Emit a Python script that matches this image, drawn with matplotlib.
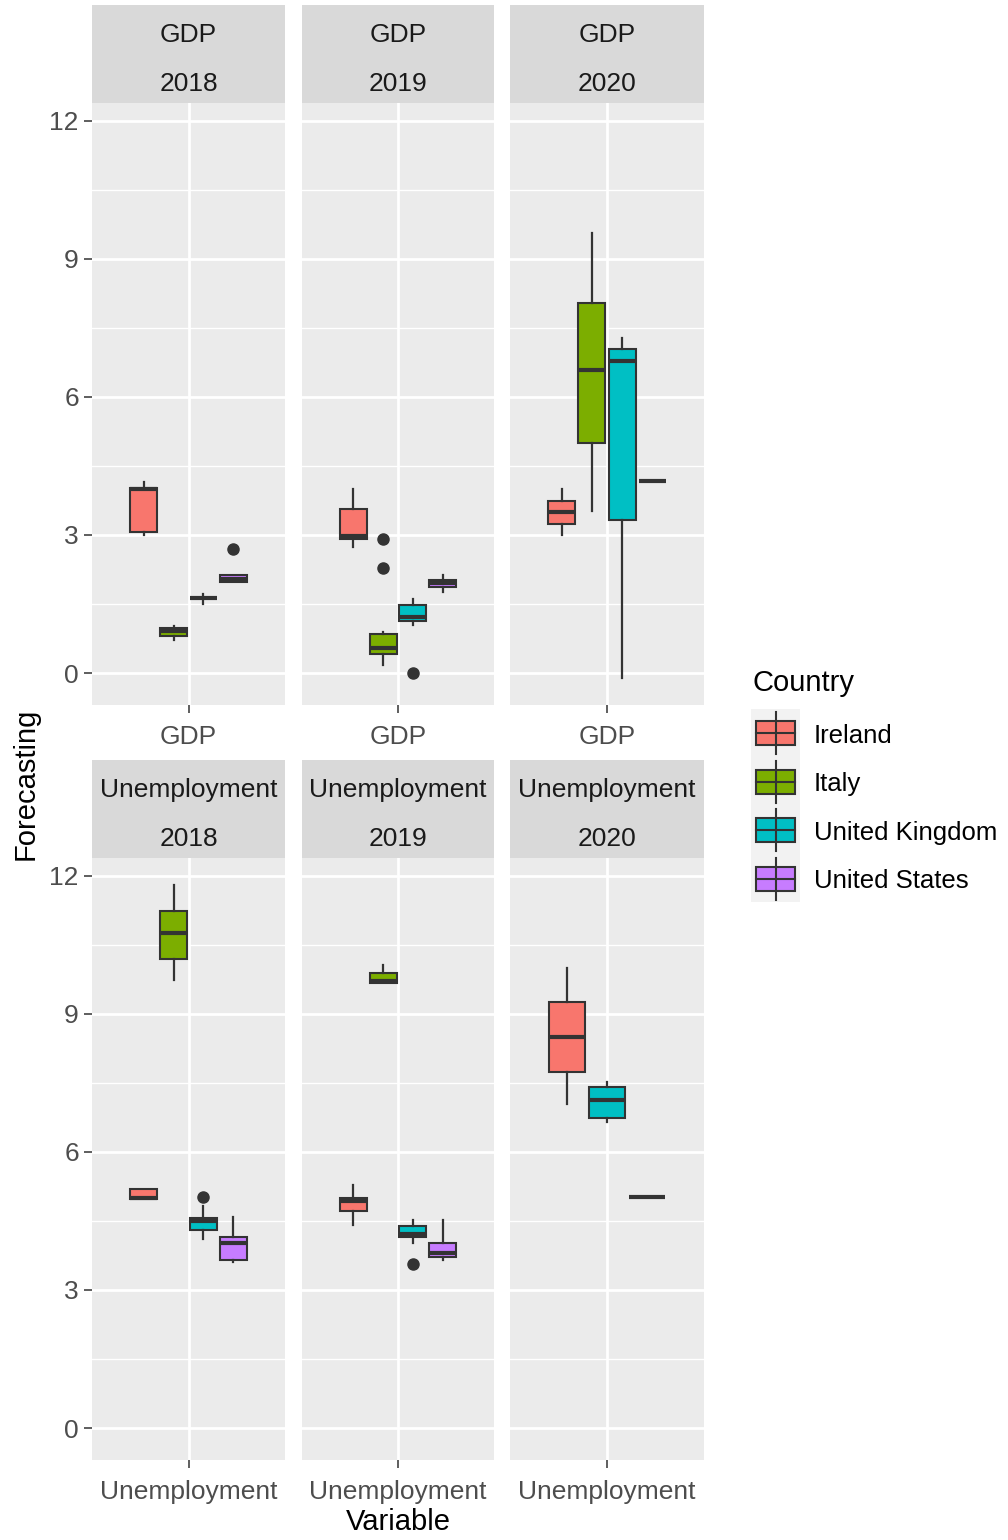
import numpy as np
import matplotlib
matplotlib.use("Agg")
import matplotlib.pyplot as plt
from matplotlib.patches import Rectangle
from matplotlib.lines import Line2D

plt.rcParams["font.family"] = ["Liberation Sans", "DejaVu Sans"]

W, H = 1008, 1540

variables = ["GDP", "Unemployment"]
years = ["2018", "2019", "2020"]
countries = ["Ireland", "Italy", "United Kingdom", "United States"]
colors = ["#F8766D", "#7CAE00", "#00BFC4", "#C77CFF"]

# panel rows: GDP 2018, GDP 2019, GDP 2020, Unemp 2018, Unemp 2019, Unemp 2020
# columns follow `countries`; nan = country missing in that panel
nan = np.nan
whis_lo = np.array([
    [3.00, 0.72, 1.51, 1.97],
    [2.74, 0.17, 1.05, 1.75],
    [3.00, 3.52, -0.10, 4.17],
    [4.97, 9.74, 4.11, 3.60],
    [4.42, 9.67, 4.02, 3.66],
    [7.05, nan, 6.64, 5.01],
])
q1 = np.array([
    [3.06, 0.80, 1.62, 1.97],
    [2.92, 0.41, 1.12, 1.88],
    [3.23, 4.99, 3.32, 4.17],
    [4.97, 10.20, 4.30, 3.66],
    [4.71, 9.67, 4.16, 3.71],
    [7.74, nan, 6.74, 5.01],
])
median = np.array([
    [4.00, 0.92, 1.63, 2.05],
    [2.97, 0.54, 1.22, 1.95],
    [3.50, 6.59, 6.78, 4.17],
    [4.99, 10.75, 4.50, 4.02],
    [4.94, 9.72, 4.22, 3.80],
    [8.50, nan, 7.12, 5.01],
])
q3 = np.array([
    [4.02, 0.97, 1.64, 2.12],
    [3.57, 0.85, 1.47, 2.03],
    [3.74, 8.05, 7.03, 4.17],
    [5.19, 11.24, 4.57, 4.16],
    [4.99, 9.89, 4.40, 4.02],
    [9.25, nan, 7.41, 5.01],
])
whis_hi = np.array([
    [4.16, 1.02, 1.72, 2.12],
    [3.99, 0.89, 1.61, 2.13],
    [3.99, 9.57, 7.27, 4.17],
    [5.19, 11.79, 4.82, 4.59],
    [5.28, 10.05, 4.51, 4.51],
    [9.99, nan, 7.51, 5.01],
])
# outliers: (panel, country index, value)
outliers = [
    (0, 3, 2.70),
    (1, 1, 2.92), (1, 1, 2.28), (1, 2, 0.00),
    (3, 2, 5.03),
    (4, 2, 3.57),
]

line_col = "#333333"

def rect(x0, y0, x1, y1):
    return [x0 / W, 1 - y1 / H, (x1 - x0) / W, (y1 - y0) / H]

col_px = [(92, 285), (302, 494), (510, 704)]
row_px = [((5, 103), (103, 705)), ((760, 858), (858, 1460))]

all_vals = np.concatenate([whis_lo[~np.isnan(whis_lo)], whis_hi[~np.isnan(whis_hi)],
                           [o[2] for o in outliers]])
lo, hi = all_vals.min(), all_vals.max()
pad = 0.05 * (hi - lo)

fig = plt.figure(figsize=(W / 100, H / 100), dpi=100)

for r, var in enumerate(variables):
    (s0, s1), (p0, p1) = row_px[r]
    for c, yr in enumerate(years):
        k = r * 3 + c
        x0, x1 = col_px[c]

        sax = fig.add_axes(rect(x0, s0, x1, s1))
        sax.set_facecolor("#D9D9D9")
        sax.set_xticks([]); sax.set_yticks([])
        for sp in sax.spines.values():
            sp.set_visible(False)
        sax.text(0.5, 0.69, var, ha="center", va="center", fontsize=19, color="#1A1A1A",
                 transform=sax.transAxes)
        sax.text(0.5, 0.19, yr, ha="center", va="center", fontsize=19, color="#1A1A1A",
                 transform=sax.transAxes)

        ax = fig.add_axes(rect(x0, p0, x1, p1))
        ax.set_facecolor("#EBEBEB")
        for sp in ax.spines.values():
            sp.set_visible(False)
        ax.set_axisbelow(True)

        present = [j for j in range(len(countries)) if not np.isnan(median[k, j])]
        n = len(present)
        stats, pos = [], []
        for i, j in enumerate(present):
            stats.append(dict(med=median[k, j], q1=q1[k, j], q3=q3[k, j],
                              whislo=whis_lo[k, j], whishi=whis_hi[k, j],
                              fliers=[v for (p, cc, v) in outliers if p == k and cc == j]))
            pos.append(1 - 0.45 + (i + 0.5) * 0.9 / n)
        bp = ax.bxp(stats, positions=pos, widths=0.9 / n * 0.9, patch_artist=True,
                    showcaps=False, manage_ticks=False,
                    boxprops=dict(edgecolor=line_col, linewidth=1.5),
                    whiskerprops=dict(color=line_col, linewidth=1.6),
                    medianprops=dict(color=line_col, linewidth=3, solid_capstyle="butt"),
                    flierprops=dict(marker="o", markerfacecolor=line_col,
                                    markeredgecolor=line_col, markersize=8))
        for patch, j in zip(bp["boxes"], present):
            patch.set_facecolor(colors[j])

        ax.set_xlim(0.275, 1.725)
        ax.set_ylim(lo - pad, hi + pad)
        ax.set_xticks([1])
        ax.set_xticklabels([var])
        ax.set_yticks([0, 3, 6, 9, 12])
        ax.set_yticks([1.5, 4.5, 7.5, 10.5], minor=True)
        ax.grid(True, which="major", color="white", linewidth=2.0)
        ax.grid(True, which="minor", axis="y", color="white", linewidth=1.0)
        ax.tick_params(axis="both", which="major", length=5.5, width=1.1, color=line_col,
                       labelsize=19, labelcolor="#4D4D4D", pad=4)
        ax.tick_params(axis="x", which="major", pad=9)
        ax.tick_params(axis="y", which="minor", length=0)
        if c > 0:
            ax.tick_params(axis="y", which="major", length=0, labelleft=False)

# axis titles
fig.text(26 / W, 1 - 784 / H, "Forecasting", rotation=90, ha="center", va="center",
         fontsize=21, color="black")
fig.text(398 / W, 1 - 1522 / H, "Variable", ha="center", va="center", fontsize=21,
         color="black")

# legend
lax = fig.add_axes(rect(745, 660, 1008, 910))
lax.set_xlim(745, 1008)
lax.set_ylim(910, 660)
lax.axis("off")
lax.text(752, 683, "Country", ha="left", va="center", fontsize=21, color="black")
lax.add_patch(Rectangle((751, 709), 49, 193, facecolor="#F2F2F2", edgecolor="none"))
for i, (name, col) in enumerate(zip(countries, colors)):
    yc = 733 + i * 48.5
    lax.add_line(Line2D([775.5, 775.5], [yc - 21, yc + 21], color=line_col, linewidth=1.5))
    lax.add_patch(Rectangle((756, yc - 12), 39, 24, facecolor=col, edgecolor=line_col,
                            linewidth=1.5))
    lax.add_line(Line2D([756, 795], [yc, yc], color=line_col, linewidth=1.5))
    lax.text(814, yc + 3, name, ha="left", va="center", fontsize=18.5, color="black")

fig.savefig("out.png", dpi=100)
